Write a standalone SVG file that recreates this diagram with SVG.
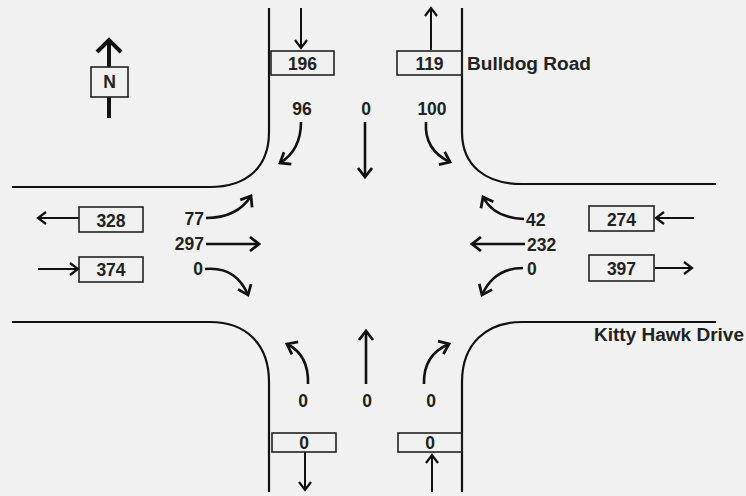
<svg xmlns="http://www.w3.org/2000/svg" width="746" height="496" viewBox="0 0 746 496">
<defs>
<style>
.road{fill:none;stroke:#111;stroke-width:2.2}
.arr{fill:none;stroke:#111;stroke-width:2.6;marker-end:url(#ah)}
.thin{fill:none;stroke:#111;stroke-width:2;marker-end:url(#ah2)}
.box{fill:none;stroke:#222;stroke-width:1.6}
.t{font-family:"Liberation Sans",Arial,sans-serif;font-weight:bold;font-size:17.5px;fill:#222}
</style>
<marker id="ah" markerUnits="userSpaceOnUse" viewBox="-12 -9 14 18" markerWidth="14" markerHeight="18" refX="0" refY="0" orient="auto">
<path d="M-9,-7 L0,0 L-9,7" fill="none" stroke="#111" stroke-width="2.8"/>
</marker>
<marker id="ah2" markerUnits="userSpaceOnUse" viewBox="-12 -9 14 18" markerWidth="14" markerHeight="18" refX="0" refY="0" orient="auto">
<path d="M-8,-6 L0,0 L-8,6" fill="none" stroke="#111" stroke-width="2.2"/>
</marker>
</defs>
<rect width="746" height="496" fill="#f1f1f1"/>
<g id="roads">
<path class="road" d="M269,8 V132 C269,168 246,187 210,187 H12"/>
<path class="road" d="M462,8 V132 C462,166 486,184 522,184 H716"/>
<path class="road" d="M12,322 H210 C246,322 269,344 269,382 V492"/>
<path class="road" d="M716,322 H522 C486,322 462,344 462,382 V492"/>
</g>
<g id="north">
<line x1="109" y1="118" x2="109" y2="42" stroke="#111" stroke-width="4"/>
<path d="M97,52 L109,40 L121,52" fill="none" stroke="#111" stroke-width="4"/>
<rect x="91" y="67" width="37" height="30" fill="#f1f1f1" stroke="#222" stroke-width="1.6"/>
<text class="t" x="109.5" y="88" text-anchor="middle" font-size="16">N</text>
</g>
<g id="connectors">
<line class="thin" x1="301" y1="8" x2="301" y2="48"/>
<line class="thin" x1="431" y1="50" x2="431" y2="8"/>
<line class="thin" x1="79" y1="218" x2="38" y2="218"/>
<line class="thin" x1="38" y1="269" x2="78" y2="269"/>
<line class="thin" x1="694" y1="218" x2="656" y2="218"/>
<line class="thin" x1="655" y1="268" x2="692" y2="268"/>
<line class="thin" x1="305" y1="452" x2="305" y2="490"/>
<line class="thin" x1="432" y1="492" x2="432" y2="455"/>
<path class="arr" d="M301,122 Q301,150 280,163"/>
<line class="arr" x1="365" y1="122" x2="365" y2="177"/>
<path class="arr" d="M426,122 Q424,150 450,162"/>
<path class="arr" d="M206,218 Q237,218 251,196"/>
<line class="arr" x1="206" y1="244" x2="259" y2="244"/>
<path class="arr" d="M205,269 Q236,266 248,295"/>
<path class="arr" d="M524,219 Q494,218 483,197"/>
<line class="arr" x1="525" y1="244" x2="472" y2="244"/>
<path class="arr" d="M523,268 Q494,268 482,295"/>
<path class="arr" d="M308,384 Q309,355 287,344"/>
<line class="arr" x1="366" y1="384" x2="366" y2="331"/>
<path class="arr" d="M424,384 Q423,355 449,344"/>
</g>
<g id="n196"><rect class="box" x="271" y="51" width="63" height="24"/><text class="t" x="302.5" y="69.5" text-anchor="middle">196</text></g>
<g id="n119"><rect class="box" x="397" y="51" width="65" height="24"/><text class="t" x="429.5" y="69.5" text-anchor="middle">119</text></g>
<g id="n328"><rect class="box" x="79" y="207" width="64" height="25"/><text class="t" x="111" y="226.5" text-anchor="middle">328</text></g>
<g id="n374"><rect class="box" x="79" y="257" width="64" height="25"/><text class="t" x="111" y="275.5" text-anchor="middle">374</text></g>
<g id="n274"><rect class="box" x="589" y="206" width="65" height="25"/><text class="t" x="621.5" y="225.5" text-anchor="middle">274</text></g>
<g id="n397"><rect class="box" x="589" y="255" width="65" height="26"/><text class="t" x="621.5" y="274.5" text-anchor="middle">397</text></g>
<g id="nS0a"><rect class="box" x="272" y="433" width="64" height="19"/><text class="t" x="304" y="448.5" text-anchor="middle">0</text></g>
<g id="nS0b"><rect class="box" x="398" y="433" width="64" height="19"/><text class="t" x="430" y="448.5" text-anchor="middle">0</text></g>
<g id="labels">
<text class="t" x="467" y="69.5" textLength="124" lengthAdjust="spacingAndGlyphs">Bulldog Road</text>
<text class="t" x="594" y="340.5" textLength="150" lengthAdjust="spacingAndGlyphs">Kitty Hawk Drive</text>
<text class="t" x="302" y="115" text-anchor="middle">96</text>
<text class="t" x="366" y="115" text-anchor="middle">0</text>
<text class="t" x="432" y="115" text-anchor="middle">100</text>
<text class="t" x="204" y="225" text-anchor="end">77</text>
<text class="t" x="204" y="250" text-anchor="end">297</text>
<text class="t" x="203" y="275" text-anchor="end">0</text>
<text class="t" x="526" y="225.5">42</text>
<text class="t" x="527" y="251">232</text>
<text class="t" x="527" y="275">0</text>
<text class="t" x="303" y="407" text-anchor="middle">0</text>
<text class="t" x="367" y="407" text-anchor="middle">0</text>
<text class="t" x="431" y="407" text-anchor="middle">0</text>
</g>
</svg>
